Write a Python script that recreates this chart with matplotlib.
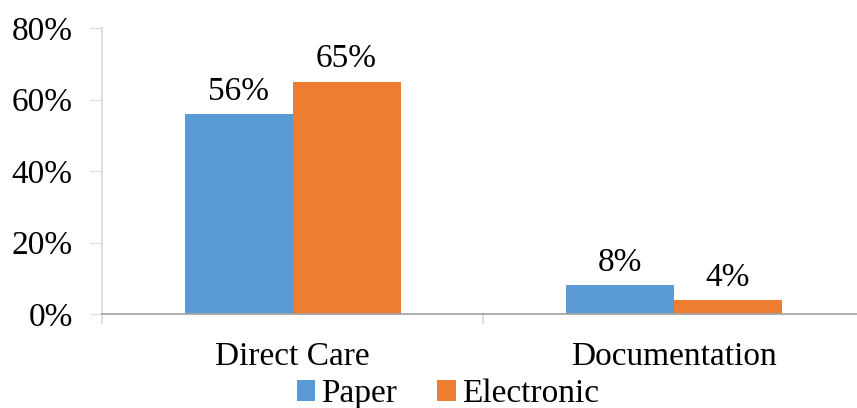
import matplotlib
matplotlib.use('Agg')
import matplotlib.pyplot as plt
import numpy as np

categories = ['Direct Care', 'Documentation']
series_names = ['Paper', 'Electronic']
paper = [56, 8]
electronic = [65, 4]
yticks = [0, 20, 40, 60, 80]
colors = ['#5B9BD5', '#ED7D31']

plt.rcParams['font.family'] = ['Liberation Serif', 'DejaVu Serif']
fs = 24

fig = plt.figure(figsize=(8.57, 4.08), dpi=100)
ax = fig.add_axes([102 / 857, 1 - 314 / 408, (857 - 102) / 857, 286 / 408])

x = np.arange(len(categories))
w = 0.283
for i, (vals, name) in enumerate(zip([paper, electronic], series_names)):
    pos = x + (i - 0.5) * w
    bars = ax.bar(pos, vals, width=w, color=colors[i], label=name)
    for b, v in zip(bars, vals):
        ax.text(b.get_x() + b.get_width() / 2, v + 2, f'{v}%',
                ha='center', va='bottom', fontsize=fs)

ax.set_xlim(-0.5, 1.48)
ax.set_ylim(0, 80)
ax.set_yticks(yticks)
ax.set_yticklabels([f'{t}%' for t in yticks], fontsize=fs)
ax.set_xticks(x)
ax.set_xticklabels(categories, fontsize=fs)
ax.tick_params(axis='x', length=0, pad=20)
ax.tick_params(axis='y', length=9, color='#d9d9d9', pad=12)

# category separator ticks
for xb in [-0.5, 0.5, 1.5]:
    ax.plot([xb, xb], [0, -2.5], color='#d9d9d9', lw=1.2, clip_on=False)

for s in ['top', 'right']:
    ax.spines[s].set_visible(False)
ax.spines['left'].set_color('#d9d9d9')
ax.spines['left'].set_linewidth(1.2)
ax.spines['bottom'].set_color('#a0a0a0')
ax.spines['bottom'].set_linewidth(1.2)

fig.legend(loc='center', bbox_to_anchor=(448 / 857, 1 - 394 / 408), ncol=2,
           frameon=False, fontsize=fs, handlelength=0.55, handleheight=0.55,
           handletextpad=0.2, columnspacing=1.2, borderpad=0)

fig.savefig('out.png', dpi=100)
